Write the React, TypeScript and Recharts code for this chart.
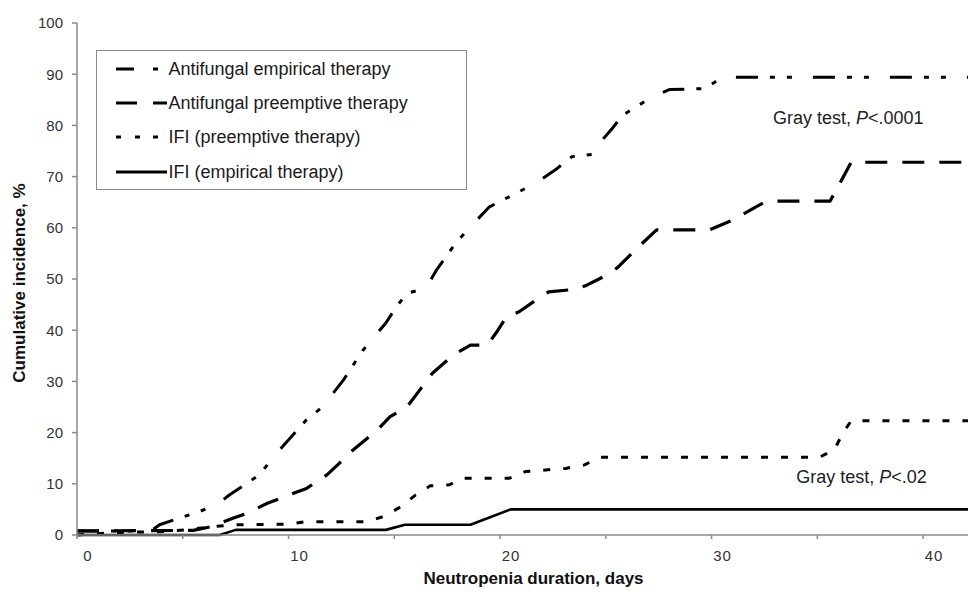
import React from 'react';
import { LineChart, Line, XAxis, YAxis, Legend, ReferenceDot, Label } from 'recharts';

// Antifungal empirical therapy (dash-dot)
const empAfDays = [0, 3.5, 3.9, 5.8, 6.6, 7.2, 8.6, 9.7, 10.85, 11.6, 12.6, 13.5, 14.6, 15.1, 15.6, 16.5, 17.0, 17.9, 18.6, 19.5, 20.4, 21.2, 21.9, 22.7, 23.4, 24.5, 24.7, 25.3, 25.8, 27.2, 28.0, 29.7, 30.5, 42.5];
const empAfVals = [0.8, 0.8, 2.0, 4.6, 5.9, 7.8, 11.7, 17.2, 22.5, 25.0, 30.3, 36.0, 41.4, 44.6, 47.2, 48.2, 51.8, 57.0, 60.2, 64.1, 66.0, 67.7, 69.3, 71.6, 73.9, 74.4, 76.5, 79.4, 82.0, 85.6, 87.0, 87.2, 89.4, 89.4];

// Antifungal preemptive therapy (dashed)
const preAfDays = [0, 5.5, 6.3, 7.4, 8.0, 9.0, 10.2, 10.85, 11.8, 12.4, 13.05, 14.2, 14.8, 15.6, 16.2, 16.8, 17.8, 18.6, 19.4, 19.8, 20.3, 20.9, 21.7, 22.3, 23.6, 24.1, 25.2, 25.6, 26.4, 27.4, 29.9, 31.0, 32.1, 32.6, 35.6, 35.8, 36.6, 42.5];
const preAfVals = [0.8, 0.9, 1.6, 3.3, 4.2, 6.2, 8.1, 9.1, 11.7, 14.0, 16.6, 20.5, 23.1, 25.0, 28.3, 31.6, 35.2, 37.1, 37.1, 39.4, 42.6, 43.6, 45.9, 47.5, 48.0, 48.8, 51.1, 52.4, 55.7, 59.6, 59.6, 61.5, 64.1, 65.2, 65.2, 66.7, 72.8, 72.8];

// IFI (preemptive therapy) (short dashes)
const ifiPreDays = [0, 2.0, 3.9, 5.2, 6.3, 7.4, 9.9, 10.85, 13.7, 14.55, 15.3, 16.0, 16.7, 17.6, 18.2, 20.45, 21.2, 23.1, 24.0, 24.7, 35.1, 35.8, 36.2, 36.6, 42.5];
const ifiPreVals = [0, 0.5, 0.65, 1.0, 1.6, 2.0, 2.1, 2.6, 2.6, 3.7, 5.5, 7.8, 9.6, 9.8, 11.1, 11.1, 12.4, 13.0, 13.7, 15.2, 15.2, 16.6, 19.9, 22.3, 22.3];

// IFI (empirical therapy) (solid)
const ifiEmpDays = [0, 6.75, 7.5, 14.6, 15.5, 18.6, 20.5, 42.5];
const ifiEmpVals = [0, 0, 1.0, 1.0, 2.0, 2.0, 5.0, 5.0];

const xTicks = [0, 5, 10, 15, 20, 25, 30, 35, 40];
const yTicks = [0, 10, 20, 30, 40, 50, 60, 70, 80, 90, 100];

const xTitle = 'Neutropenia duration, days';
const yTitle = 'Cumulative incidence, %';

const toPoints = (days: number[], vals: number[]) => days.map((day, i) => ({ day, value: vals[i] }));

const series = [
  { key: 'empAf', name: 'Antifungal empirical therapy', data: toPoints(empAfDays, empAfVals), dash: '22 12 5 12 5 21', width: 3, legendDash: '18 19 5 100' },
  { key: 'preAf', name: 'Antifungal preemptive therapy', data: toPoints(preAfDays, preAfVals), dash: '22 15', width: 3.2, legendDash: '21 16 14 100' },
  { key: 'ifiPre', name: 'IFI (preemptive therapy)', data: toPoints(ifiPreDays, ifiPreVals), dash: '7 13', width: 3, legendDash: '5 14 5 13 5 100' },
  { key: 'ifiEmp', name: 'IFI (empirical therapy)', data: toPoints(ifiEmpDays, ifiEmpVals), dash: undefined as string | undefined, width: 2.6, legendDash: undefined as string | undefined },
];

const annotations = [
  { day: 32.9, pct: 81.4, pre: 'Gray test, ', p: 'P', post: '<.0001' },
  { day: 34.0, pct: 11.3, pre: 'Gray test, ', p: 'P', post: '<.02' },
];

const FONT = '"Liberation Sans", Arial, sans-serif';

const XTick = (props: any) => {
  const { x, y, payload } = props;
  if (payload.value % 10 !== 0) return <g />;
  return (
    <text x={x + 11} y={y + 14} textAnchor="middle" dominantBaseline="central" fontSize={15} fill="#333" letterSpacing={1} fontFamily={FONT}>
      {payload.value}
    </text>
  );
};

const XTitle = (props: any) => {
  const vb = props.viewBox;
  return (
    <text x={vb.x + vb.width / 2 + 7} y={vb.y + 43} textAnchor="middle" dominantBaseline="central" fontSize={17} fontWeight="bold" fill="#111" fontFamily={FONT}>
      {xTitle}
    </text>
  );
};

const YTitle = (props: any) => {
  const vb = props.viewBox;
  const cx = vb.x + 11;
  const cy = vb.y + vb.height / 2 + 4;
  return (
    <text x={cx} y={cy} transform={`rotate(-90, ${cx}, ${cy})`} textAnchor="middle" dominantBaseline="central" fontSize={17} fontWeight="bold" fill="#111" fontFamily={FONT}>
      {yTitle}
    </text>
  );
};

const makeAnno = (a: typeof annotations[number]) => (props: any) => {
  const vb = props.viewBox;
  return (
    <text x={vb.x} y={vb.y} dominantBaseline="central" fontSize={18} fill="#222" fontFamily={FONT}>
      {a.pre}
      <tspan fontStyle="italic">{a.p}</tspan>
      {a.post}
    </text>
  );
};

const LegendBox = () => (
  <div
    style={{
      width: 371,
      height: 140,
      boxSizing: 'border-box',
      border: '1.5px solid #8a8a8a',
      background: '#fff',
      paddingTop: 1,
      fontFamily: FONT,
      fontSize: 18,
      color: '#1a1a1a',
    }}
  >
    {series.map((s) => (
      <div key={s.key} style={{ height: 34.2, display: 'flex', alignItems: 'center', position: 'relative' }}>
        <svg width={52} height={10} style={{ position: 'absolute', left: 18.5 }}>
          <line x1={0} y1={5} x2={51} y2={5} stroke="#000" strokeWidth={3} strokeDasharray={s.legendDash} />
        </svg>
        <span style={{ position: 'absolute', left: 71.5, whiteSpace: 'nowrap', lineHeight: '20px' }}>{s.name}</span>
      </div>
    ))}
  </div>
);

export default function App() {
  return (
    <div style={{ width: 968, height: 584, fontFamily: FONT, position: 'relative' }}>
      <LineChart width={968} height={584} margin={{ top: 15, right: 0, bottom: 0, left: 0 }}>
        <XAxis
          type="number"
          dataKey="day"
          domain={[0, 42.5]}
          ticks={xTicks}
          allowDataOverflow
          height={57}
          tickSize={4}
          tick={<XTick />}
          stroke="#8a8a8a"
          strokeWidth={1.5}
          interval={0}
        >
          <Label content={<XTitle />} />
        </XAxis>
        <YAxis
          type="number"
          domain={[0, 100]}
          ticks={yTicks}
          width={69}
          tickSize={5}
          tickMargin={9}
          tick={{ fontSize: 15, fill: '#333', fontFamily: FONT }}
          stroke="#8a8a8a"
          strokeWidth={1.5}
          interval={0}
        >
          <Label content={<YTitle />} />
        </YAxis>
        <Legend
          verticalAlign="middle"
          align="center"
          layout="horizontal"
          content={<LegendBox />}
          wrapperStyle={{ top: 42, left: 88, width: 371, height: 140 }}
        />
        {series.map((s) => (
          <Line
            key={s.key}
            data={s.data}
            dataKey="value"
            name={s.name}
            type="linear"
            stroke="#000"
            strokeWidth={s.width}
            strokeDasharray={s.dash}
            strokeLinecap="butt"
            strokeLinejoin="round"
            dot={false}
            activeDot={false}
            isAnimationActive={false}
          />
        ))}
        {annotations.map((a, i) => (
          <ReferenceDot key={i} x={a.day} y={a.pct} r={0} fill="none" stroke="none" label={makeAnno(a)} />
        ))}
      </LineChart>
    </div>
  );
}
